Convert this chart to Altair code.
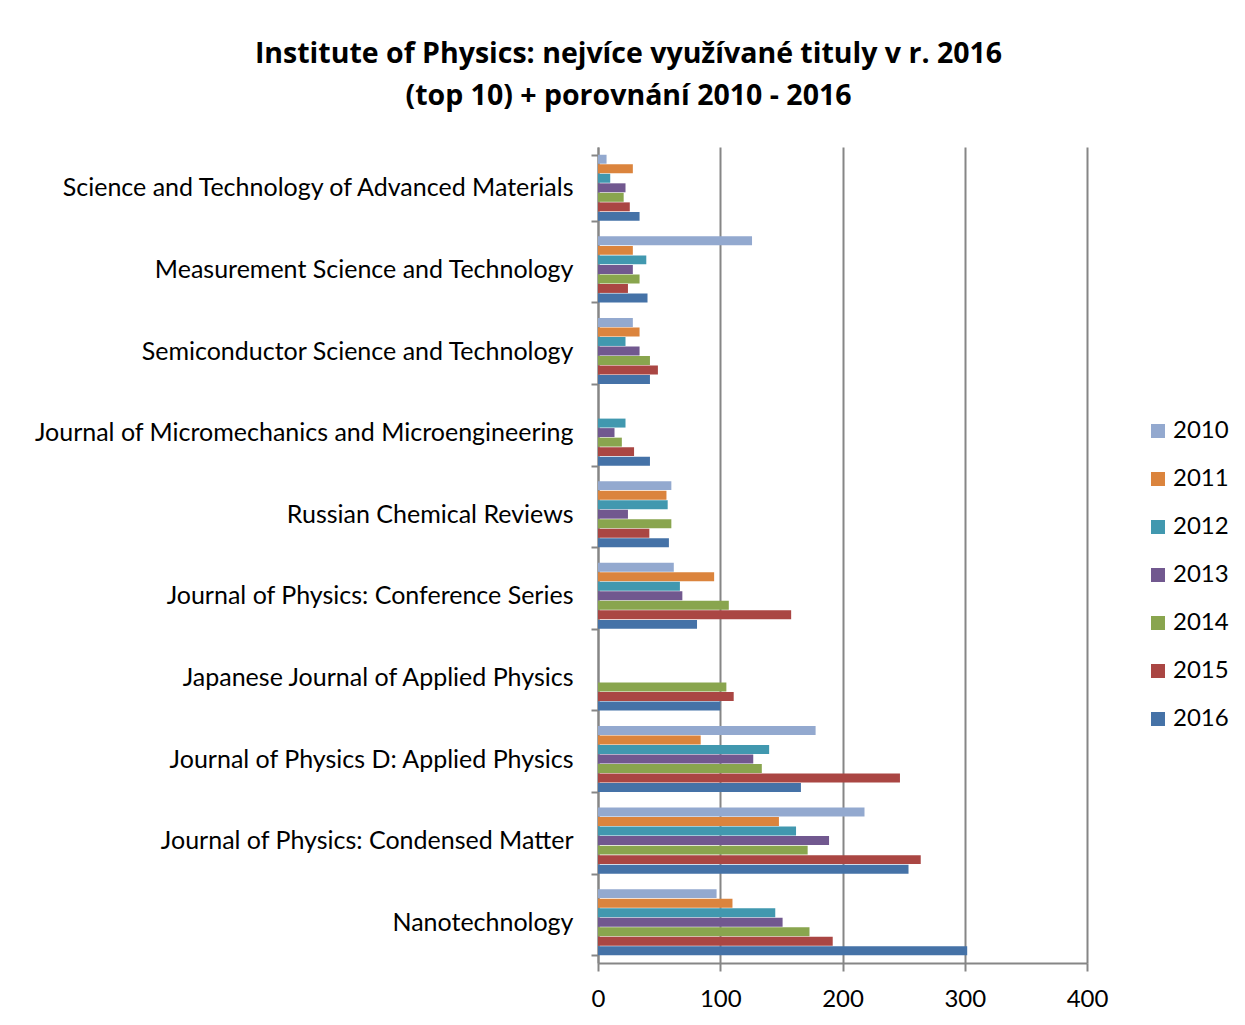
import altair as alt
import pandas as pd

categories = [
    "Science and Technology of Advanced Materials",
    "Measurement Science and Technology",
    "Semiconductor Science and Technology",
    "Journal of Micromechanics and Microengineering",
    "Russian Chemical Reviews",
    "Journal of Physics: Conference Series",
    "Japanese Journal of Applied Physics",
    "Journal of Physics D: Applied Physics",
    "Journal of Physics: Condensed Matter",
    "Nanotechnology",
]
years = ["2010", "2011", "2012", "2013", "2014", "2015", "2016"]
v2010 = [7, 126, 28.5, None, 60, 62, None, 178, 218, 97]
v2011 = [28.5, 28.5, 34, None, 56, 95, None, 84, 148, 110]
v2012 = [10, 39.5, 22.5, 22.5, 57, 67, None, 140, 162, 145]
v2013 = [22.5, 28.5, 34, 13.5, 24.5, 69, None, 127, 189, 151]
v2014 = [21, 34, 42.5, 19.5, 60, 107, 105, 134, 171.5, 173]
v2015 = [26, 24.5, 49, 29.5, 42, 158, 111, 247, 264, 192]
v2016 = [34, 40.5, 42.5, 42.5, 58, 81, 100, 166, 254, 302]
colors = ["#93A9CF", "#DB843D", "#4198AF", "#71588F", "#89A54E", "#AA4643", "#4572A7"]

series = [v2010, v2011, v2012, v2013, v2014, v2015, v2016]
rows = []
for y, vals in zip(years, series):
    for c, v in zip(categories, vals):
        if v is not None:
            rows.append({"cat": c, "year": y, "value": v})
df = pd.DataFrame(rows)

FONT = "Lato"
GRAY = "#868686"

chart = alt.Chart(df).mark_bar().encode(
    y=alt.Y("cat:N", sort=categories,
            scale=alt.Scale(paddingInner=0.19, paddingOuter=0.095),
            axis=alt.Axis(title=None, labelFontSize=25, labelFont=FONT, labelColor="black",
                          labelPadding=18, labelLimit=800, tickBand="extent", tickSize=7,
                          tickColor=GRAY, tickWidth=2, domainColor=GRAY, domainWidth=2,
                          grid=False)),
    yOffset=alt.YOffset("year:N", sort=years, scale=alt.Scale(paddingInner=0.06)),
    x=alt.X("value:Q", scale=alt.Scale(domain=[0, 400]),
            axis=alt.Axis(title=None, values=[0, 100, 200, 300, 400], labelFontSize=24,
                          labelFont=FONT, labelColor="black", tickSize=8, tickColor=GRAY,
                          tickWidth=2, domainColor=GRAY, domainWidth=2, gridColor=GRAY,
                          gridWidth=2, labelPadding=16, labelFlush=False)),
    color=alt.Color("year:N", sort=years,
                    scale=alt.Scale(domain=years, range=colors),
                    legend=alt.Legend(title=None, orient="none", legendX=548, legendY=272,
                                      symbolType="square", symbolSize=196, symbolStrokeWidth=0,
                                      labelFontSize=24, labelFont=FONT, labelColor="black",
                                      rowPadding=24, padding=0, labelOffset=3)),
).properties(
    width=489,
    height=816,
    title=alt.TitleParams(
        text=["Institute of Physics: nejvíce využívané tituly v r. 2016",
              "(top 10) + porovnání 2010 - 2016"],
        fontSize=28.5, font="Open Sans", fontWeight="bold", color="black", lineHeight=42,
        anchor="middle", frame="group", dx=-214, offset=25),
    autosize=alt.AutoSizeParams(type="none"),
    padding={"left": 590, "top": 139, "right": 150, "bottom": 60},
).configure_view(strokeWidth=0)

chart.save("out.html", embed_options={"renderer": "svg", "actions": False})
